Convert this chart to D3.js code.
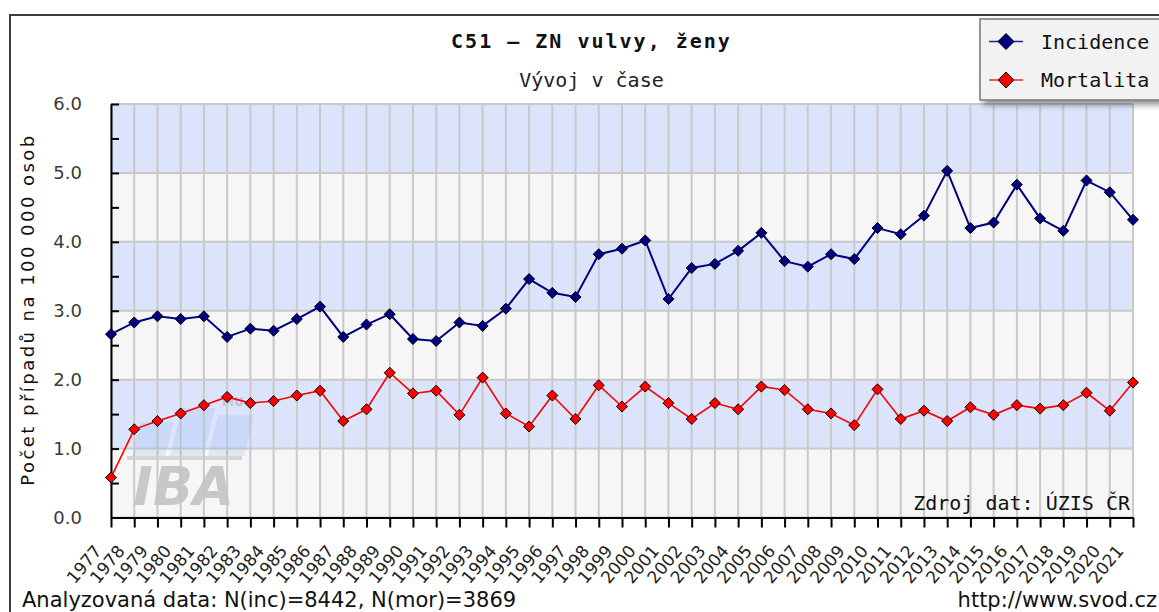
<!DOCTYPE html>
<html>
<head>
<meta charset="utf-8">
<script src="https://cdn.jsdelivr.net/npm/d3@7"></script>
<style>
  html, body { margin: 0; padding: 0; background: #fff; }
  svg { display: block; }
</style>
</head>
<body>
<svg id="chart" width="1159" height="612"></svg>
<script>
// ---- data ----
const years = [1977,1978,1979,1980,1981,1982,1983,1984,1985,1986,1987,1988,1989,1990,1991,1992,1993,1994,1995,1996,1997,1998,1999,2000,2001,2002,2003,2004,2005,2006,2007,2008,2009,2010,2011,2012,2013,2014,2015,2016,2017,2018,2019,2020,2021];
const incidence = [2.66,2.83,2.92,2.88,2.92,2.62,2.74,2.71,2.88,3.06,2.62,2.80,2.95,2.59,2.56,2.83,2.78,3.03,3.46,3.26,3.20,3.82,3.90,4.02,3.17,3.62,3.68,3.87,4.13,3.72,3.64,3.82,3.75,4.20,4.11,4.38,5.03,4.20,4.28,4.83,4.34,4.16,4.89,4.72,4.32];
const mortality = [0.58,1.28,1.40,1.51,1.63,1.75,1.66,1.69,1.77,1.84,1.40,1.57,2.10,1.80,1.84,1.49,2.03,1.51,1.32,1.77,1.43,1.92,1.61,1.90,1.66,1.43,1.66,1.57,1.90,1.85,1.57,1.51,1.34,1.86,1.43,1.55,1.40,1.60,1.49,1.63,1.58,1.63,1.81,1.55,1.96];
const yTicks = [0,1,2,3,4,5,6];
const yMinorTicks = [0,0.5,1,1.5,2,2.5,3,3.5,4,4.5,5,5.5,6];
const seriesNames = ["Incidence", "Mortalita"];
const titleText = "C51 – ZN vulvy, ženy";
const subtitleText = "Vývoj v čase";
const yAxisTitle = "Počet případů na 100 000 osob";
const sourceText = "Zdroj dat: ÚZIS ČR";
const footLeft = "Analyzovaná data: N(inc)=8442, N(mor)=3869";
const footRight = "http://www.svod.cz";

// ---- layout ----
const svg = d3.select("#chart");
const L = 111, R = 1133, T = 104, B = 517.5;
const x = d3.scaleLinear().domain([years[0], years[years.length-1]]).range([L, R]);
const y = d3.scaleLinear().domain([0, 6]).range([B, T]);

const defs = svg.append("defs");
const f = defs.append("filter").attr("id","shadow").attr("x","-20%").attr("y","-20%").attr("width","150%").attr("height","160%");
f.append("feGaussianBlur").attr("in","SourceAlpha").attr("stdDeviation",3);
f.append("feOffset").attr("dx",4).attr("dy",4).attr("result","ob");
f.append("feComponentTransfer").append("feFuncA").attr("type","linear").attr("slope",0.45);
const fm = f.append("feMerge"); fm.append("feMergeNode"); fm.append("feMergeNode").attr("in","SourceGraphic");

// outer frame
svg.append("rect").attr("x",10).attr("y",15).attr("width",1300).attr("height",800)
  .attr("fill","#fff").attr("stroke","#3c3c3c").attr("stroke-width",2);

// bands
const bandData = d3.range(0, 6).map(i => ({lo: yTicks[i], hi: yTicks[i+1]}));
svg.append("g").selectAll("rect").data(bandData).join("rect")
  .attr("x", L).attr("width", R - L)
  .attr("y", d => y(d.hi)).attr("height", d => y(d.lo) - y(d.hi))
  .attr("fill", (d,i) => i % 2 === 1 ? "#dce4fc" : "#f6f6f6");

// grid
const grid = svg.append("g");
grid.selectAll("line.v").data(years).enter().append("line")
  .attr("x1", d => x(d)).attr("x2", d => x(d)).attr("y1", T).attr("y2", B)
  .attr("stroke","#c9c9c9").attr("stroke-width",2);
grid.selectAll("line.h").data(yTicks).enter().append("line")
  .attr("x1", L).attr("x2", R).attr("y1", d => y(d)).attr("y2", d => y(d))
  .attr("stroke","#c9c9c9").attr("stroke-width",2);

// watermark
const wm = svg.append("g").attr("class","watermark");
const blocks = [[132,422,33],[170,408,33],[208,415,36]];
blocks.forEach(b => {
  const [bx, by, bw] = b, bb = 456, sk = 0.25*(bb-by);
  wm.append("path").attr("d", `M${bx+sk},${by} L${bx+sk+bw},${by} L${bx+bw},${bb} L${bx},${bb} Z`)
    .attr("fill","#8fb0e6").attr("opacity",0.22);
});
wm.append("text").attr("x",222).attr("y",406).attr("font-family","DejaVu Sans").attr("font-size",12)
  .attr("font-weight","bold").attr("fill","#b8c4dc").text("MU");
wm.append("line").attr("x1",127).attr("x2",242).attr("y1",458).attr("y2",458).attr("stroke","#cfcfcf").attr("stroke-width",4).attr("opacity",0.8);
wm.append("text").attr("x",133).attr("y",505).attr("font-family","DejaVu Sans").attr("font-size",53)
  .attr("font-weight","bold").attr("font-style","italic").attr("fill","#c4c4c4").attr("opacity",0.9).text("IBA");

// y axis
const yAxisMinor = d3.axisLeft(y).tickValues(yMinorTicks).tickSizeInner(-8).tickSizeOuter(0).tickFormat("");
const gy = svg.append("g").attr("transform", `translate(${L},0)`).call(yAxisMinor);
gy.selectAll("line").attr("stroke","#000").attr("stroke-width",2);
gy.select(".domain").attr("stroke","#000").attr("stroke-width",2);
const yAxisLab = d3.axisLeft(y).tickValues(yTicks).tickSize(0).tickPadding(29).tickFormat(d3.format(".1f"));
const gyl = svg.append("g").attr("transform", `translate(${L},0)`).call(yAxisLab);
gyl.select(".domain").remove();
gyl.selectAll("text").attr("font-family","DejaVu Sans").attr("font-size",18).attr("fill","#3a3a3a");

// x axis
const xAxis = d3.axisBottom(x).tickValues(years).tickSizeInner(10).tickSizeOuter(0).tickFormat(d3.format("d"));
const gx = svg.append("g").attr("transform", `translate(0,${B})`).call(xAxis);
gx.select(".domain").attr("stroke","#000").attr("stroke-width",2);
gx.selectAll("line").attr("stroke","#000").attr("stroke-width",2);
gx.selectAll("text")
  .attr("font-family","DejaVu Sans").attr("font-size",17).attr("fill","#222")
  .attr("text-anchor","end").attr("dy",null).attr("y",0)
  .attr("transform","translate(-9,34) rotate(-50)");

// y axis title
svg.append("text")
  .attr("transform", `translate(34,${(T+B)/2}) rotate(-90)`)
  .attr("text-anchor","middle")
  .attr("font-family","DejaVu Sans").attr("font-size",18).attr("fill","#111")
  .attr("textLength",350).attr("lengthAdjust","spacing")
  .text(yAxisTitle);

// lines
const diamond = r => `M0,${-r} L${r},0 L0,${r} L${-r},0 Z`;
const lineGen = d3.line().x((d,i) => x(years[i])).y(d => y(d));
const series = [
  {name: seriesNames[0], values: incidence, color: "#000080", width: 2},
  {name: seriesNames[1], values: mortality, color: "#ff0000", width: 1.6}
];
series.forEach(s => {
  svg.append("path").datum(s.values).attr("d", lineGen)
    .attr("fill","none").attr("stroke", s.color).attr("stroke-width", s.width);
  svg.append("g").selectAll("path").data(s.values).join("path")
    .attr("transform", (d,i) => `translate(${x(years[i])},${y(d)})`)
    .attr("d", diamond(5.5)).attr("fill", s.color).attr("stroke","#000").attr("stroke-width",1);
});

// source text
svg.append("text").attr("x",1130).attr("y",510).attr("text-anchor","end")
  .attr("font-family","DejaVu Sans Mono").attr("font-size",20).attr("fill","#111").text(sourceText);

// titles
svg.append("text").attr("x",591.5).attr("y",48).attr("text-anchor","middle")
  .attr("font-family","DejaVu Sans Mono").attr("font-weight","bold").attr("font-size",20)
  .attr("letter-spacing","2px").attr("fill","#111").text(titleText);
svg.append("text").attr("x",591.5).attr("y",87).attr("text-anchor","middle")
  .attr("font-family","DejaVu Sans Mono").attr("font-size",20).attr("fill","#222").text(subtitleText);

// legend
const lg = svg.append("g");
lg.append("rect").attr("x",980).attr("y",19).attr("width",200).attr("height",81)
  .attr("fill","#f2f2f2").attr("stroke","#777").attr("stroke-width",1.5).attr("filter","url(#shadow)");
series.forEach((s, i) => {
  const ly = [41.5, 80][i];
  lg.append("line").attr("x1",989).attr("x2",1023).attr("y1",ly).attr("y2",ly)
    .attr("stroke", s.color).attr("stroke-width",1.6).attr("opacity",0.85);
  lg.append("path").attr("transform",`translate(1006,${ly})`).attr("d", diamond(8))
    .attr("fill", s.color).attr("stroke","#000").attr("stroke-width",1);
  lg.append("text").attr("x",1041).attr("y",ly+7).attr("font-family","DejaVu Sans Mono")
    .attr("font-size",20).attr("fill","#111").text(s.name);
});

// footers
svg.append("text").attr("x",22).attr("y",607).attr("font-family","DejaVu Sans").attr("font-size",21)
  .attr("fill","#111").text(footLeft);
svg.append("text").attr("x",1157).attr("y",607).attr("text-anchor","end").attr("font-family","DejaVu Sans")
  .attr("font-size",21).attr("fill","#111").text(footRight);
</script>
</body>
</html>
